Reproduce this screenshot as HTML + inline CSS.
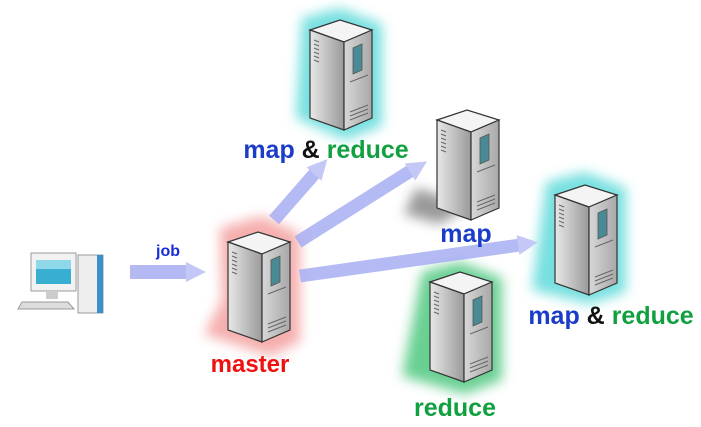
<!DOCTYPE html>
<html><head><style>
body{margin:0;background:#fff;width:701px;height:427px;overflow:hidden}
svg{display:block}
text{font-family:"Liberation Sans",sans-serif;font-weight:bold}
</style></head><body>
<svg width="701" height="427" viewBox="0 0 701 427">
<defs>
<linearGradient id="lf" x1="0" x2="1"><stop offset="0" stop-color="#e8e8e8"/><stop offset="1" stop-color="#9a9a9a"/></linearGradient>
<linearGradient id="rf" x1="0" x2="1"><stop offset="0" stop-color="#d8d8d8"/><stop offset="1" stop-color="#a8a8a8"/></linearGradient>
<filter id="bl" x="-50%" y="-50%" width="200%" height="200%"><feGaussianBlur stdDeviation="6"/></filter>
<g id="srv">
<polygon points="0,10 30,0 62,10 34,22" fill="#f4f4f4" stroke="#333" stroke-width="1.2"/>
<polygon points="0,10 34,22 34,110 0,98" fill="url(#lf)" stroke="#333" stroke-width="1.2"/>
<polygon points="34,22 62,10 62,98 34,110" fill="url(#rf)" stroke="#333" stroke-width="1.2"/>
<polygon points="43,28 52,24 52,50 43,54" fill="#4a8a94" stroke="#555" stroke-width="0.8"/>
<g stroke="#666" stroke-width="1"><line x1="4" y1="20" x2="9" y2="22"/><line x1="4" y1="24" x2="9" y2="26"/><line x1="4" y1="28" x2="9" y2="30"/><line x1="4" y1="32" x2="9" y2="34"/><line x1="4" y1="36" x2="9" y2="38"/><line x1="4" y1="40" x2="9" y2="42"/>
<line x1="40" y1="62" x2="58" y2="55"/><line x1="40" y1="92" x2="58" y2="85"/><line x1="40" y1="96" x2="58" y2="89"/><line x1="40" y1="100" x2="58" y2="93"/></g>
</g>
<g id="arh"><polygon points="0,-10 0,10 20,0" fill="#c4c8f6"/></g>
</defs>

<!-- glows -->
<g filter="url(#bl)" opacity="0.85">
<polygon points="220,228 262,216 300,234 300,342 270,356 204,334 222,300" fill="#f4a0a0"/>
<polygon points="302,18 340,8 382,24 382,126 345,140 296,118" fill="#60dada"/>
<polygon points="546,182 585,172 626,188 626,292 590,304 532,290" fill="#60dada"/>
<polygon points="422,272 460,262 502,278 502,380 465,394 402,376" fill="#50c880"/>
<polygon points="416,188 470,205 440,224 404,214" fill="#888"/>
</g>

<!-- arrows -->
<g stroke="#b4b9f4" stroke-width="14">
<line x1="130" y1="272" x2="188" y2="272"/>
</g>
<use href="#arh" transform="translate(186,272)"/>
<g stroke="#a8aef2" stroke-width="13" opacity="0.85">
<line x1="274" y1="220" x2="316" y2="172"/>
<line x1="298" y1="242" x2="412" y2="170"/>
<line x1="300" y1="276" x2="520" y2="245"/>
</g>
<use href="#arh" transform="translate(314,174) rotate(-48)"/>
<use href="#arh" transform="translate(410,172) rotate(-32)"/>
<use href="#arh" transform="translate(518,245) rotate(-8)"/>

<!-- client computer -->
<g>
<rect x="78" y="255" width="25" height="58" fill="#eee" stroke="#999"/>
<rect x="97" y="255" width="6" height="58" fill="#3a90c8"/>
<rect x="31" y="253" width="45" height="38" fill="#f2f2f2" stroke="#999"/>
<rect x="36" y="260" width="35" height="24" fill="#38aed0"/>
<rect x="36" y="260" width="35" height="9" fill="#8fd8ea"/>
<polygon points="22,302 68,302 74,309 18,309" fill="#ddd" stroke="#999"/>
<rect x="46" y="291" width="12" height="8" fill="#ccc"/>
</g>

<use href="#srv" transform="translate(228,232)"/>
<use href="#srv" transform="translate(310,20)"/>
<use href="#srv" transform="translate(437,110)"/>
<use href="#srv" transform="translate(555,185)"/>
<use href="#srv" transform="translate(430,272)"/>

<text x="168" y="256" font-size="16" fill="#1a2ad8" text-anchor="middle">job</text>
<text x="250" y="372" font-size="24" fill="#f01010" text-anchor="middle">master</text>
<text x="326" y="158" font-size="25" text-anchor="middle"><tspan fill="#1a3cc8">map</tspan><tspan fill="#111"> &amp; </tspan><tspan fill="#10a040">reduce</tspan></text>
<text x="466" y="242" font-size="25" fill="#1a3cc8" text-anchor="middle">map</text>
<text x="611" y="324" font-size="25" text-anchor="middle"><tspan fill="#1a3cc8">map</tspan><tspan fill="#111"> &amp; </tspan><tspan fill="#10a040">reduce</tspan></text>
<text x="455" y="416" font-size="25" fill="#10a040" text-anchor="middle">reduce</text>
</svg>
</body></html>
